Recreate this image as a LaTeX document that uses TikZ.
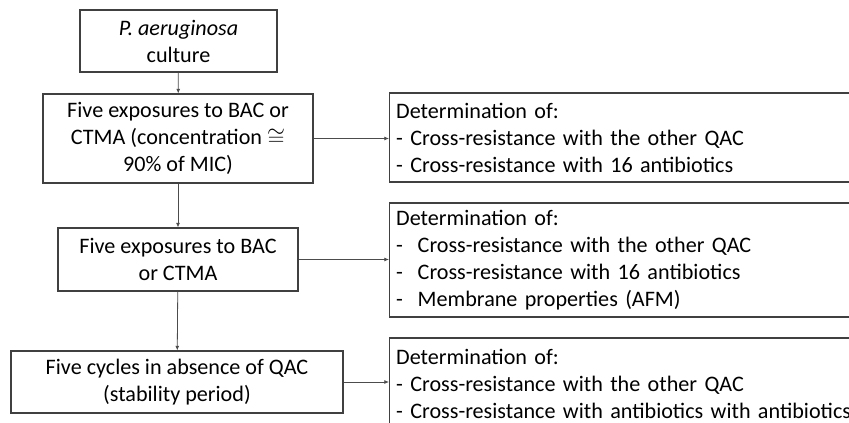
\documentclass[tikz,border=0pt]{standalone}
\usepackage{fontspec}
\setmainfont{Carlito}
\usepackage{amssymb}
\usetikzlibrary{positioning,arrows.meta}

\newcommand{\flowfont}{\fontsize{16.6}{20.25}\selectfont}

\begin{document}
\begin{tikzpicture}[x=0.75pt,y=-0.75pt,
  stage/.style={draw=black!75,line width=0.8pt,align=center,inner sep=0pt,font=\flowfont},
  result/.style={draw=black!75,line width=0.8pt,anchor=west,align=left,font=\flowfont,
    minimum width=390pt,text width=380pt,inner xsep=5pt,inner ysep=0pt},
  flow/.style={-{Latex[length=3.5pt,width=3pt]},draw=black!70,line width=0.6pt}]
  \clip (0,0) rectangle (849,423);

  \node[stage,minimum width=147.75pt,minimum height=46.5pt] (cult) at (178.5,41) {\textit{P. aeruginosa}\\culture};
  \node[stage,minimum width=202.5pt,minimum height=66.75pt] (exp1) at (178,138.5) {Five exposures to BAC or\\CTMA (concentration $\cong$\\90\% of MIC)};
  \node[stage,minimum width=180pt,minimum height=47.25pt] (exp2) at (178,259.5) {Five exposures to BAC\\or CTMA};
  \node[stage,minimum width=249pt,minimum height=46.5pt] (stab) at (177,382) {Five cycles in absence of QAC\\(stability period)};

  \node[result,minimum height=66.75pt] (det1) at (389,137.5) {Determination of:\\- Cross-resistance with the other QAC\\- Cross-resistance with 16 antibiotics};
  \node[result,minimum height=85.5pt] (det2) at (389,260) {Determination of:\\-~~Cross-resistance with the other QAC\\-~~Cross-resistance with 16 antibiotics\\-~~Membrane properties (AFM)};
  \node[result,minimum height=69pt] (det3) at (389,384) {Determination of:\\- Cross-resistance with the other QAC\\- Cross-resistance with antibiotics with antibiotics};

  \draw[flow] (cult) -- (exp1);
  \draw[flow] (exp1) -- (exp2);
  \draw[flow] (exp2) -- (stab);
  \draw[flow] (exp1.east) -- (exp1.east -| det1.west);
  \draw[flow] (exp2.east) -- (exp2.east -| det2.west);
  \draw[flow] (stab.east) -- (stab.east -| det3.west);
\end{tikzpicture}
\end{document}
